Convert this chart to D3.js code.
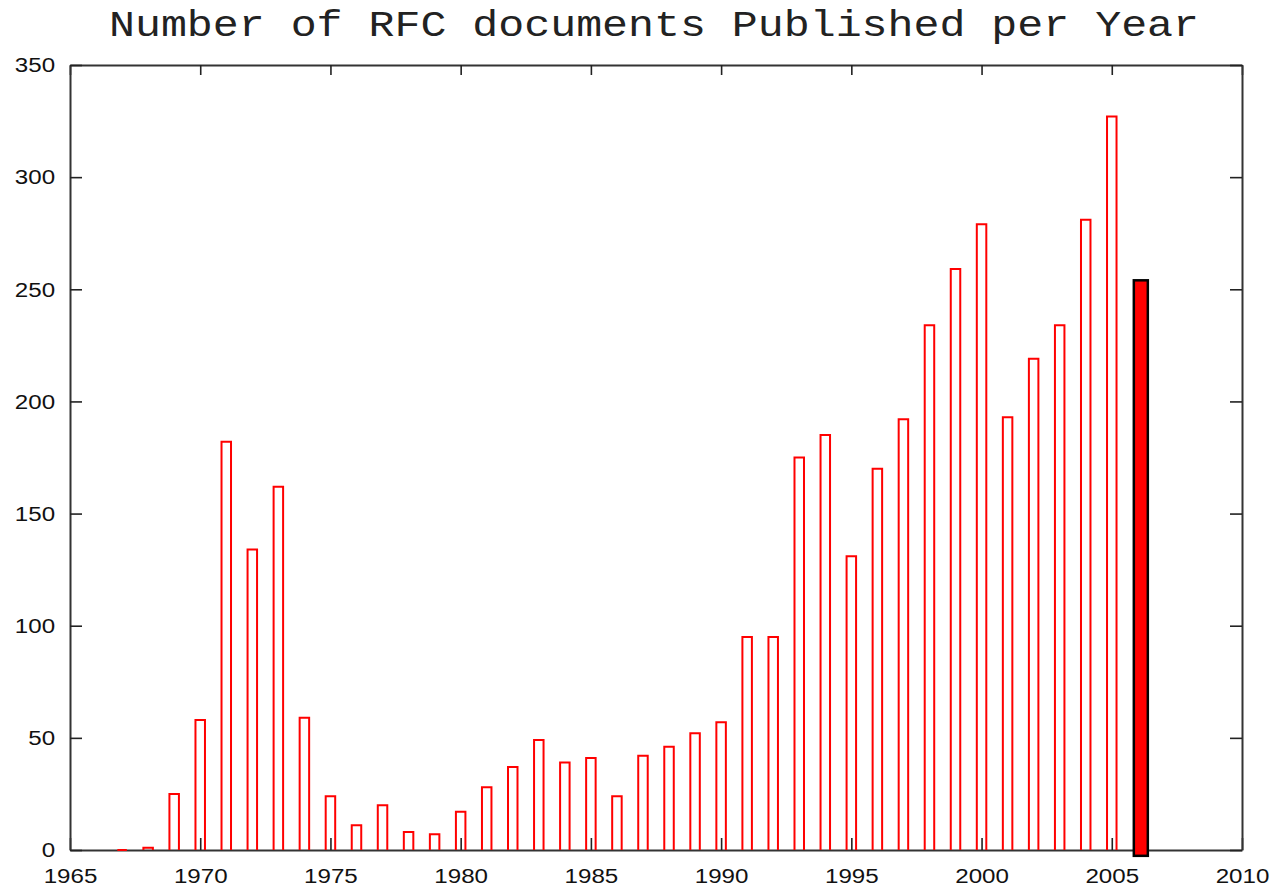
<!DOCTYPE html>
<html>
<head>
<meta charset="utf-8">
<script src="https://cdn.jsdelivr.net/npm/d3@7"></script>
<style>
  body { margin: 0; background: #fff; }
  svg { display: block; }
</style>
</head>
<body>
<svg id="chart"></svg>
<script>
const title = "Number of RFC documents Published per Year";

// published RFCs per year (1967 - 2005), 2006 is the partial year drawn filled
const years = [1967, 1968, 1969, 1970, 1971, 1972, 1973, 1974, 1975, 1976,
               1977, 1978, 1979, 1980, 1981, 1982, 1983, 1984, 1985, 1986,
               1987, 1988, 1989, 1990, 1991, 1992, 1993, 1994, 1995, 1996,
               1997, 1998, 1999, 2000, 2001, 2002, 2003, 2004, 2005];
const counts = [0, 1, 25, 58, 182, 134, 162, 59, 24, 11,
                20, 8, 7, 17, 28, 37, 49, 39, 41, 24,
                42, 46, 52, 57, 95, 95, 175, 185, 131, 170,
                192, 234, 259, 279, 193, 219, 234, 281, 327];
const currentYear = [2006];
const currentCount = [254];

const xTicks = [1965, 1970, 1975, 1980, 1985, 1990, 1995, 2000, 2005, 2010];
const yTicks = [0, 50, 100, 150, 200, 250, 300, 350];

const width = 1274;
const height = 887;
const margin = {top: 65, right: 32, bottom: 37, left: 70};

const svg = d3.select("#chart")
              .attr("width", width)
              .attr("height", height);

const x = d3.scaleLinear()
            .domain([1965, 2010])
            .range([margin.left, width - margin.right]);

const y = d3.scaleLinear()
            .domain([0, 350])
            .range([height - margin.bottom, margin.top]);

svg.append("text")
   .attr("x", (x(1965) + x(2010)) / 2 - 2)
   .attr("y", 36)
   .attr("text-anchor", "middle")
   .attr("textLength", 1090)
   .attr("lengthAdjust", "spacingAndGlyphs")
   .style("font-family", "'Courier New', 'Liberation Mono', monospace")
   .style("font-size", "37px")
   .style("fill", "#222")
   .text(title);

const axisStyle = function(g) {
  g.select(".domain").style("stroke", "#333").style("stroke-width", 2);
  g.selectAll(".tick line").style("stroke", "#222").style("stroke-width", 1.6);
  g.selectAll(".tick text")
   .style("font-family", "'Liberation Sans', Arial, sans-serif")
   .style("font-size", "21px")
   .style("fill", "#111");
};

svg.append("g")
   .attr("transform", "translate(0," + y(0) + ")")
   .call(d3.axisBottom(x).tickValues(xTicks).tickFormat(d3.format("d"))
           .tickSize(-12).tickSizeOuter(0).tickPadding(18))
   .call(axisStyle)
   .call(g => g.selectAll(".tick text").attr("transform", "scale(1.15,1)"));

svg.append("g")
   .attr("transform", "translate(0," + y(350) + ")")
   .call(d3.axisTop(x).tickValues(xTicks).tickFormat("")
           .tickSize(-10).tickSizeOuter(0))
   .call(axisStyle);

svg.append("g")
   .attr("transform", "translate(" + x(1965) + ",0)")
   .call(d3.axisLeft(y).tickValues(yTicks)
           .tickSize(-12).tickSizeOuter(0).tickPadding(13))
   .call(axisStyle)
   .call(g => g.selectAll(".tick text").attr("transform", "scale(1.15,1)"));

svg.append("g")
   .attr("transform", "translate(" + x(2010) + ",0)")
   .call(d3.axisRight(y).tickValues(yTicks).tickFormat("")
           .tickSize(-12).tickSizeOuter(0))
   .call(axisStyle);

// bars as paths so a zero value still shows up as a line
const barW = 9.5;
const barPath = function(yr, v) {
  const x0 = x(yr) - barW / 2, x1 = x(yr) + barW / 2;
  return "M" + x0 + "," + y(0) + "L" + x0 + "," + y(v) +
         "L" + x1 + "," + y(v) + "L" + x1 + "," + y(0);
};

svg.append("g")
   .selectAll("path")
   .data(years)
   .enter()
   .append("path")
   .attr("d", (d, i) => barPath(d, counts[i]))
   .style("fill", "none")
   .style("stroke", "#ff0000")
   .style("stroke-width", 2);

// the current year, filled
svg.append("g")
   .selectAll("rect")
   .data(currentYear)
   .enter()
   .append("rect")
   .attr("x", d => x(d) + 3 - 7)
   .attr("y", (d, i) => y(currentCount[i]))
   .attr("width", 14)
   .attr("height", (d, i) => y(-2.6) - y(currentCount[i]))
   .style("fill", "#ff0000")
   .style("stroke", "#000")
   .style("stroke-width", 2.5);
</script>
</body>
</html>
